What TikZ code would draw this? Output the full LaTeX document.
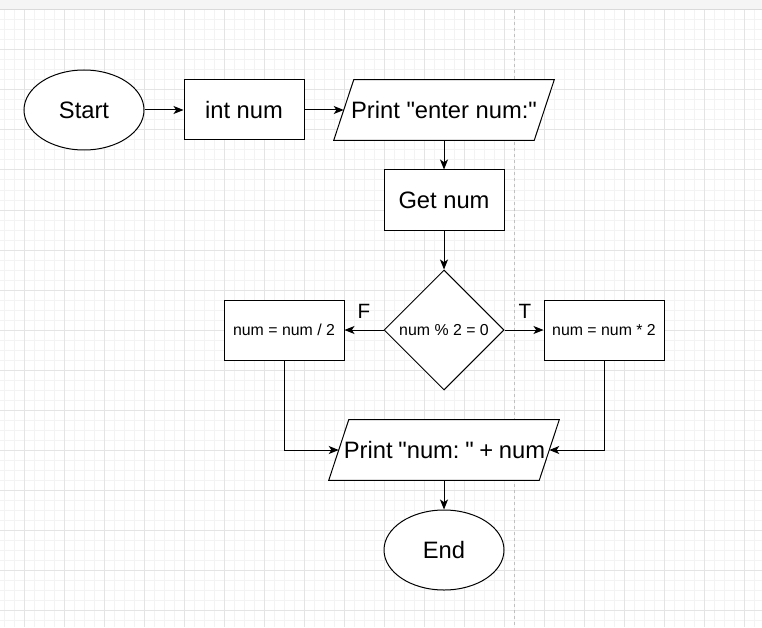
\documentclass[tikz,border=0pt]{standalone}
\usepackage{fontspec}
\setmainfont{Liberation Sans}
\newfontfamily\drawfont{Liberation Sans}
\usetikzlibrary{shapes.geometric,arrows.meta,calc}
\definecolor{gridminor}{HTML}{F3F3F3}
\definecolor{gridmajor}{HTML}{E4E4E4}
\definecolor{topstrip}{HTML}{F5F5F5}
\definecolor{topline}{HTML}{DADADA}
\definecolor{pagebreak}{HTML}{C0C0C0}
\frenchspacing
\begin{document}
\begin{tikzpicture}[x=0.75pt,y=-0.75pt,
  box/.style={draw,line width=0.75pt,fill=white,inner sep=0pt},
  bigtxt/.style={font=\drawfont\fontsize{17.8}{20}\selectfont\frenchspacing},
  smalltxt/.style={font=\drawfont\fontsize{11.9}{14}\selectfont\frenchspacing},
  term/.style={box,bigtxt,ellipse,minimum width=90pt,minimum height=60pt},
  proc/.style={box,bigtxt,rectangle,minimum width=90pt,minimum height=45pt},
  sproc/.style={box,smalltxt,rectangle,minimum width=90pt,minimum height=45pt},
  dec/.style={box,smalltxt,diamond,aspect=1,minimum width=90pt,minimum height=90pt},
  iotxt/.style={bigtxt,rectangle,inner sep=0pt,minimum height=45pt},
  para/.style={draw,line width=0.75pt,fill=white},
  arr/.style={line width=0.75pt,-{Stealth[length=7.5pt,width=6pt,inset=2pt]}},
  lbl/.style={font=\drawfont\fontsize{15.5}{18}\selectfont,inner sep=0pt}
]
\useasboundingbox (0,0) rectangle (762,627);
\fill[white] (0,0) rectangle (762,627);
% grid
\foreach \x in {4,14,...,762} \draw[gridminor,line width=0.75pt] (\x,10) -- (\x,627);
\foreach \y in {20,30,...,627} \draw[gridminor,line width=0.75pt] (0,\y) -- (762,\y);
\foreach \x in {24,64,...,762} \draw[gridmajor,line width=0.75pt] (\x,10) -- (\x,627);
\foreach \y in {50,90,...,627} \draw[gridmajor,line width=0.75pt] (0,\y) -- (762,\y);
\fill[topstrip] (0,0) rectangle (762,9.5);
\draw[topline,line width=0.75pt] (0,10) -- (762,10);
\draw[pagebreak,line width=0.75pt,dash pattern=on 2.25pt off 2.25pt] (514,10) -- (514,627);

% nodes
\node[term] (start) at (84,110) {Start};
\node[proc] (int) at (244,110) {int num};
\node[iotxt,minimum width=150pt] (p1) at (444,110) {};
\draw[para] ($(p1.south west)+(-10,0)$) -- ($(p1.south east)+(-10,0)$)
  -- ($(p1.north east)+(10,0)$) -- ($(p1.north west)+(10,0)$) -- cycle;
\node[bigtxt] at (p1) {Print "enter num:"};
\node[proc] (get) at (444,200) {Get num};
\node[dec] (cond) at (444,330) {num \% 2 = 0};
\node[sproc] (half) at (284,330) {num = num / 2};
\node[sproc] (dbl) at (604,330) {num = num * 2};
\node[iotxt,minimum width=157.5pt] (p2) at (444,450) {};
\draw[para] ($(p2.south west)+(-10,0)$) -- ($(p2.south east)+(-10,0)$)
  -- ($(p2.north east)+(10,0)$) -- ($(p2.north west)+(10,0)$) -- cycle;
\node[bigtxt] at (444.5,450) {\spaceskip=0.24em Print "num: " + num};
\node[term] (end) at (444,550) {End};
\node[lbl] (lf) at (364,311) {F};
\node[lbl] (lt) at (525,311) {T};

% connectors
\draw[arr] (start) -- (int);
\draw[arr] (int) -- (p1.west);
\draw[arr] (p1) -- (get);
\draw[arr] (get) -- (cond);
\draw[arr] (cond.west) -- (half.east);
\draw[arr] (cond.east) -- (dbl.west);
\draw[arr] (half.south) |- (p2.west);
\draw[arr] (dbl.south) |- (p2.east);
\draw[arr] (p2) -- (end);
\end{tikzpicture}
\end{document}
